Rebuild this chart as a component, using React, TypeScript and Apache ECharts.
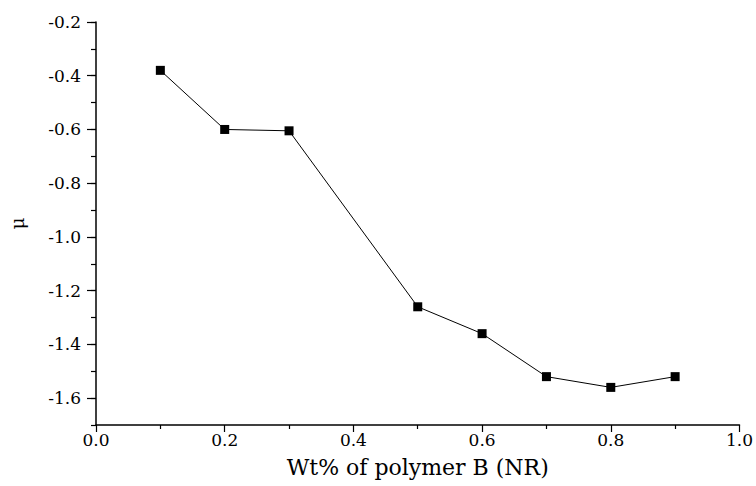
import React, { useEffect, useRef } from "react";
import * as echarts from "echarts";

const wtFraction = [0.1, 0.2, 0.3, 0.5, 0.6, 0.7, 0.8, 0.9];
const muValues = [-0.38, -0.6, -0.605, -1.26, -1.36, -1.52, -1.56, -1.52];
const yMajorTicks = [-1.6, -1.4, -1.2, -1.0, -0.8, -0.6, -0.4, -0.2];
const xTitle = "Wt% of polymer B (NR)";
const yTitle = "μ";

const FONT = "DejaVu Serif";

export default function App() {
  const ref = useRef<HTMLDivElement>(null);
  useEffect(() => {
    if (!ref.current) return;
    const chart = echarts.init(ref.current, null, { renderer: "svg" });
    chart.setOption({
      animation: false,
      backgroundColor: "#fff",
      textStyle: { fontFamily: FONT },
      grid: { left: 96, right: 13, top: 22, bottom: 61, containLabel: false },
      xAxis: {
        type: "value",
        min: 0,
        max: 1,
        interval: 0.2,
        name: xTitle,
        nameLocation: "middle",
        nameGap: 31,
        nameTextStyle: { fontFamily: FONT, fontSize: 22, color: "#000" },
        axisLine: { show: true, onZero: false, lineStyle: { color: "#000", width: 1.5 } },
        axisTick: { show: true, length: 7, lineStyle: { color: "#000", width: 1.2 } },
        minorTick: { show: true, splitNumber: 2, length: 4, lineStyle: { color: "#000", width: 1.2 } },
        splitLine: { show: false },
        axisLabel: {
          fontFamily: FONT,
          fontSize: 17,
          color: "#000",
          margin: 6,
          formatter: (v: number) => v.toFixed(1),
        },
      },
      yAxis: [
        {
          type: "value",
          min: -1.7,
          max: -0.2,
          name: yTitle,
          nameLocation: "middle",
          nameRotate: 90,
          nameGap: 70,
          nameTextStyle: { fontFamily: FONT, fontSize: 18, color: "#000" },
          axisLine: { show: true, onZero: false, lineStyle: { color: "#000", width: 1.5 } },
          axisTick: {
            show: true,
            length: 9,
            customValues: yMajorTicks,
            lineStyle: { color: "#000", width: 1.2 },
          },
          splitLine: { show: false },
          axisLabel: {
            fontFamily: FONT,
            fontSize: 17,
            color: "#000",
            margin: 15,
            customValues: yMajorTicks,
            formatter: (v: number) => v.toFixed(1),
          },
        },
        {
          type: "value",
          min: -1.7,
          max: -0.2,
          interval: 0.1,
          position: "left",
          axisLine: { show: false },
          axisTick: { show: true, length: 5, lineStyle: { color: "#000", width: 1.2 } },
          axisLabel: { show: false },
          splitLine: { show: false },
        },
      ],
      series: [
        {
          type: "line",
          yAxisIndex: 0,
          data: wtFraction.map((x, i) => [x, muValues[i]]),
          symbol: "rect",
          symbolSize: 9,
          itemStyle: { color: "#000" },
          lineStyle: { color: "#000", width: 1 },
        },
      ],
    });
    return () => chart.dispose();
  }, []);
  return <div ref={ref} style={{ width: 756, height: 486, position: "absolute", left: 0, top: 0 }} />;
}
